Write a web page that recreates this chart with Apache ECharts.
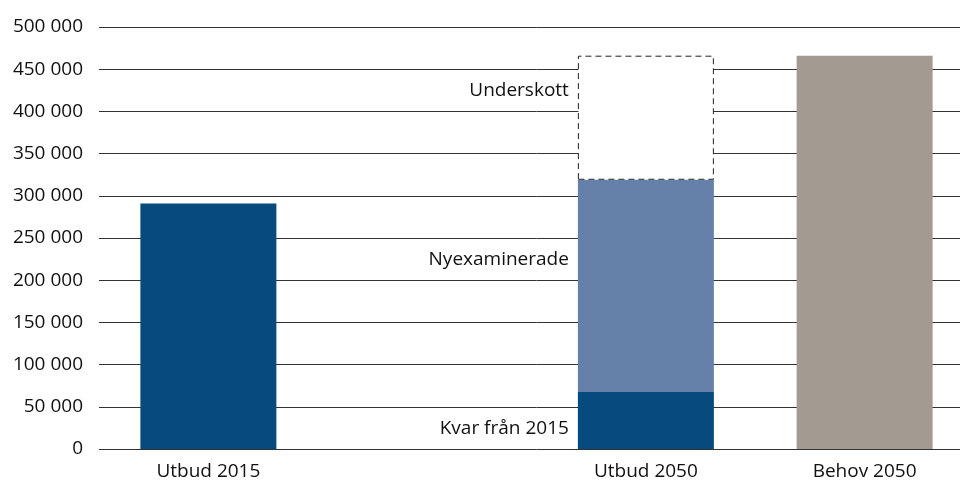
<!DOCTYPE html>
<html>
<head>
<meta charset="utf-8">
<script src="https://cdn.jsdelivr.net/npm/echarts@6/dist/echarts.min.js"></script>
<style>
  html, body { margin: 0; padding: 0; background: #fff; overflow: hidden; }
  /* diagrammet är beskuret till höger, därför bredare än fönstret */
  #main { width: 974px; height: 483px; }
</style>
</head>
<body>
<div id="main"></div>
<script>
// kategorier (tom plats mellan 2015 och 2050)
var categories = ['Utbud 2015', '', 'Utbud 2050', 'Behov 2050'];
var utbud2015 = [291000, null, null, null];
var kvar2015 = [null, null, 67500, null];
var nyexaminerade = [null, null, 251500, null];
var underskott = [null, null, 147000, null];
var behov2050 = [null, null, null, 466000];
var yTicks = [0, 50000, 100000, 150000, 200000, 250000, 300000, 350000, 400000, 450000, 500000];

var txt = '#111';
var font = '"Open Sans", "Noto Sans", sans-serif';

function fmt(v) {
  return String(v).replace(/\B(?=(\d{3})+(?!\d))/g, ' ');
}

var chart = echarts.init(document.getElementById('main'), null, { renderer: 'canvas' });

var option = {
  animation: false,
  textStyle: { fontFamily: font },
  grid: { left: 99, top: 27, right: 0, bottom: 34, containLabel: false },
  xAxis: {
    type: 'category',
    data: categories,
    axisLine: { show: false },
    axisTick: { show: false },
    axisLabel: { color: txt, fontSize: 19, margin: 13, fontFamily: font }
  },
  yAxis: {
    type: 'value',
    min: yTicks[0],
    max: yTicks[yTicks.length - 1],
    interval: 50000,
    axisLine: { show: false },
    axisTick: { show: false },
    axisLabel: { color: txt, fontSize: 19, margin: 16, fontFamily: font, formatter: fmt },
    splitLine: { lineStyle: { color: '#333', width: 1 } }
  },
  series: [
    {
      name: 'Utbud 2015', type: 'bar', stack: 'a', barWidth: 136,
      data: utbud2015, itemStyle: { color: '#074b7e' }
    },
    {
      name: 'Kvar från 2015', type: 'bar', stack: 'a', barWidth: 136,
      data: kvar2015, itemStyle: { color: '#074b7e' },
      label: { show: true, position: 'left', distance: 9, offset: [0, 8], color: txt, fontSize: 19, formatter: 'Kvar från 2015' }
    },
    {
      name: 'Nyexaminerade', type: 'bar', stack: 'a', barWidth: 136,
      data: nyexaminerade, itemStyle: { color: '#6581aa' },
      label: { show: true, position: 'left', distance: 9, offset: [0, -26], color: txt, fontSize: 19, formatter: 'Nyexaminerade' }
    },
    {
      name: 'Underskott', type: 'bar', stack: 'a', barWidth: 136,
      data: underskott,
      itemStyle: { color: '#fff', borderColor: '#222', borderWidth: 1, borderType: [6, 4] },
      label: { show: true, position: 'left', distance: 9, offset: [0, -27], color: txt, fontSize: 19, formatter: 'Underskott' }
    },
    {
      name: 'Behov 2050', type: 'bar', stack: 'a', barWidth: 136,
      data: behov2050, itemStyle: { color: '#a39a91' }
    }
  ]
};

chart.setOption(option);
</script>
</body>
</html>
